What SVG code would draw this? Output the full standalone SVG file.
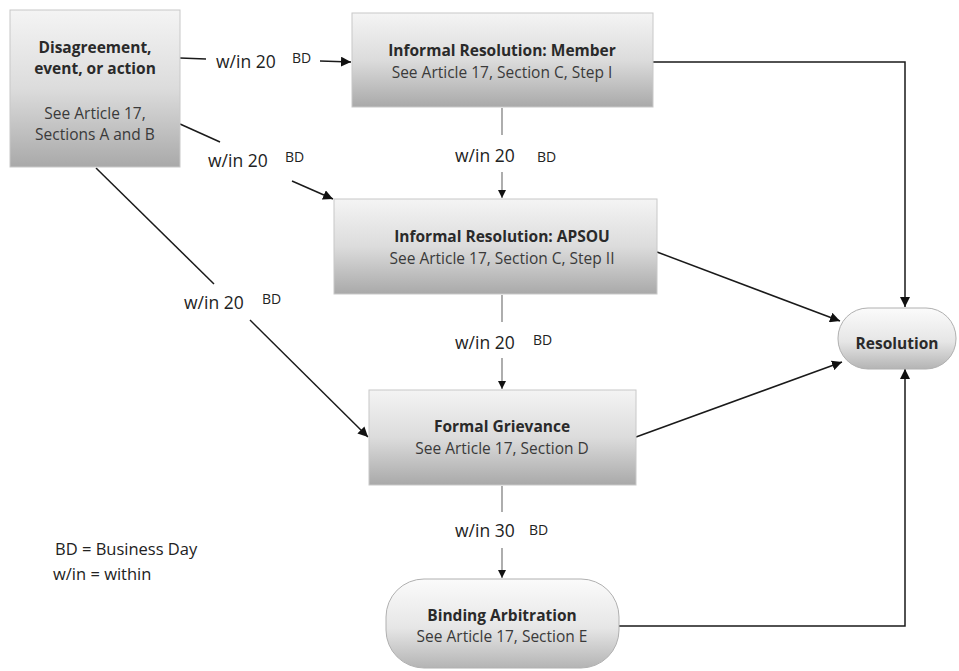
<svg xmlns="http://www.w3.org/2000/svg" width="959" height="671" viewBox="0 0 959 671">
<defs>
<linearGradient id="g" x1="0" y1="0" x2="0" y2="1">
<stop offset="0" stop-color="#f4f4f4"/>
<stop offset="0.5" stop-color="#dcdcdc"/>
<stop offset="1" stop-color="#a9a9a9"/>
</linearGradient>
<linearGradient id="gp" x1="0" y1="0" x2="0" y2="1">
<stop offset="0" stop-color="#fbfbfb"/>
<stop offset="0.55" stop-color="#e6e6e6"/>
<stop offset="1" stop-color="#b4b4b4"/>
</linearGradient>
<marker id="ah" viewBox="0 0 10 10" refX="10" refY="5" markerWidth="10" markerHeight="10" markerUnits="userSpaceOnUse" orient="auto">
<path d="M0,0 L10,5 L0,10 Z" fill="#111"/>
</marker>
<marker id="ahs" viewBox="0 0 10 10" refX="10" refY="5" markerWidth="8" markerHeight="8" markerUnits="userSpaceOnUse" orient="auto">
<path d="M0,0 L10,5 L0,10 Z" fill="#111"/>
</marker>
</defs>
<style>
.box{fill:url(#g);stroke:#c8c8c8;stroke-width:1}
.pill{fill:url(#gp);stroke:#b0b0b0;stroke-width:1}
.t{font-family:"Open Sans","Liberation Sans",sans-serif;font-weight:bold;font-size:15.5px;fill:#2a2a2a;text-anchor:middle}
.s{font-family:"Open Sans","Liberation Sans",sans-serif;font-size:15.5px;fill:#3a3a3a;text-anchor:middle}
.lab{font-family:"Open Sans","Liberation Sans",sans-serif;font-size:17.5px;fill:#222}
.bd{font-family:"Open Sans","Liberation Sans",sans-serif;font-size:14px;fill:#222}
.leg{font-family:"Open Sans","Liberation Sans",sans-serif;font-size:16.5px;fill:#222}
.ln{fill:none;stroke:#1a1a1a;stroke-width:1.5}
.lv{fill:none;stroke:#777;stroke-width:1.2}
</style>
<rect width="959" height="671" fill="#fff"/>
<g id="connectors">
<path class="ln" d="M180,58 L206,59"/>
<path class="ln" d="M320,61 L351,62" marker-end="url(#ah)"/>
<path class="ln" d="M180,124 L220,142"/>
<path class="ln" d="M292,181 L333,199" marker-end="url(#ah)"/>
<path class="ln" d="M96,168 L214,284"/>
<path class="ln" d="M250,320 L368,437" marker-end="url(#ah)"/>
<path class="lv" d="M502,108 L502,135"/>
<path class="lv" d="M502,172 L502,198" marker-end="url(#ahs)"/>
<path class="lv" d="M502,295 L502,322"/>
<path class="lv" d="M502,358 L502,389" marker-end="url(#ahs)"/>
<path class="lv" d="M502,486 L502,512"/>
<path class="lv" d="M502,548 L502,578" marker-end="url(#ahs)"/>
<path class="ln" d="M653,62 L905,62 L905,307" marker-end="url(#ah)"/>
<path class="ln" d="M657,252 L840,321" marker-end="url(#ah)"/>
<path class="ln" d="M636,437 L842,362" marker-end="url(#ah)"/>
<path class="ln" d="M619,626 L905,626 L905,369" marker-end="url(#ah)"/>
<text class="lab" x="216" y="68">w/in 20</text><text class="bd" x="292" y="63">BD</text>
<text class="lab" x="208" y="167">w/in 20</text><text class="bd" x="285" y="162">BD</text>
<text class="lab" x="184" y="309">w/in 20</text><text class="bd" x="262" y="304">BD</text>
<text class="lab" x="455" y="162">w/in 20</text><text class="bd" x="537" y="162">BD</text>
<text class="lab" x="455" y="349">w/in 20</text><text class="bd" x="533" y="345">BD</text>
<text class="lab" x="455" y="537">w/in 30</text><text class="bd" x="529" y="535">BD</text>
</g>
<g id="n1">
<rect class="box" x="10" y="10" width="170" height="157"/>
<text class="t" x="95" y="53">Disagreement,</text>
<text class="t" x="95" y="74">event, or action</text>
<text class="s" x="95" y="119">See Article 17,</text>
<text class="s" x="95" y="140">Sections A and B</text>
</g>
<g id="n2">
<rect class="box" x="352" y="13" width="301" height="94"/>
<text class="t" x="502" y="56">Informal Resolution: Member</text>
<text class="s" x="502" y="78">See Article 17, Section C, Step I</text>
</g>
<g id="n3">
<rect class="box" x="334" y="199" width="323" height="95"/>
<text class="t" x="502" y="242">Informal Resolution: APSOU</text>
<text class="s" x="502" y="264">See Article 17, Section C, Step II</text>
</g>
<g id="n4">
<rect class="box" x="369" y="390" width="267" height="95"/>
<text class="t" x="502" y="432">Formal Grievance</text>
<text class="s" x="502" y="454">See Article 17, Section D</text>
</g>
<g id="n5">
<rect class="pill" x="386" y="579" width="233" height="89" rx="38" ry="38"/>
<text class="t" x="502" y="621">Binding Arbitration</text>
<text class="s" x="502" y="642">See Article 17, Section E</text>
</g>
<g id="n6">
<rect class="pill" x="838" y="308" width="118" height="61" rx="30" ry="30"/>
<text class="t" x="897" y="349">Resolution</text>
</g>
<g id="legend">
<text class="leg" x="55" y="555">BD = Business Day</text>
<text class="leg" x="53" y="580">w/in = within</text>
</g>
</svg>
